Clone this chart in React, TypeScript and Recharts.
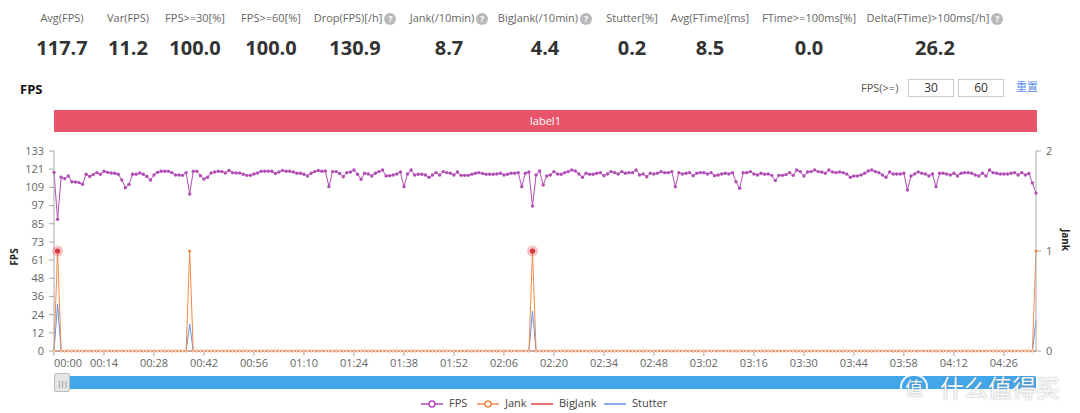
import React from 'react';
import { LineChart, Line, XAxis, YAxis } from 'recharts';

const FONT = '"Open Sans", "Noto Sans CJK SC", "Noto Sans", sans-serif';

const statLabels = ['Avg(FPS)', 'Var(FPS)', 'FPS>=30[%]', 'FPS>=60[%]', 'Drop(FPS)[/h]', 'Jank(/10min)', 'BigJank(/10min)', 'Stutter[%]', 'Avg(FTime)[ms]', 'FTime>=100ms[%]', 'Delta(FTime)>100ms[/h]'];
const statValues = ['117.7', '11.2', '100.0', '100.0', '130.9', '8.7', '4.4', '0.2', '8.5', '0.0', '26.2'];
const statHelp = [false, false, false, false, true, true, true, false, false, false, true];
const statCenters = [62, 128, 195, 271, 355, 449, 545, 632, 710, 809, 935];

const fpsTickLabels = ['0', '12', '24', '36', '48', '61', '73', '85', '97', '109', '121', '133'];
const jankTickLabels = ['0', '1', '2'];
const timeTickSeconds = [0, 14, 28, 42, 56, 70, 84, 98, 112, 126, 140, 154, 168, 182, 196, 210, 224, 238, 252, 266];

const fps = [
  118.8, 87.6, 115.5, 114.6, 116.4, 112.6, 112.4, 112.0, 110.9, 117.5,
  116.0, 117.3, 118.6, 117.5, 119.5, 118.8, 118.4, 118.2, 117.5, 113.7,
  108.6, 110.8, 117.5, 117.5, 118.4, 117.5, 116.0, 113.7, 117.0, 118.8,
  119.5, 119.5, 119.5, 118.6, 117.0, 117.0, 116.8, 118.6, 104.4, 119.5,
  119.5, 116.6, 114.4, 115.5, 118.4, 119.0, 119.5, 119.3, 118.4, 120.1,
  118.6, 118.4, 118.4, 117.5, 116.8, 116.8, 117.7, 118.4, 119.5, 119.5,
  119.5, 119.5, 118.0, 119.0, 120.1, 119.5, 119.5, 119.0, 118.2, 118.2,
  117.5, 116.4, 118.2, 119.3, 120.0, 119.5, 119.7, 109.3, 119.3, 119.3,
  118.0, 115.9, 118.6, 119.0, 120.4, 117.5, 114.2, 118.2, 117.7, 116.4,
  118.2, 119.3, 120.4, 116.4, 116.6, 117.0, 117.7, 119.0, 109.3, 117.7,
  120.4, 117.0, 117.5, 117.5, 117.0, 115.5, 117.0, 118.6, 117.0, 119.3,
  118.6, 118.2, 117.0, 119.0, 116.8, 116.8, 116.8, 117.5, 118.2, 118.6,
  118.0, 117.5, 117.5, 117.5, 117.7, 118.2, 117.0, 117.5, 118.2, 118.2,
  118.6, 109.3, 118.2, 119.0, 96.4, 117.0, 119.7, 110.4, 116.4, 117.0,
  119.3, 117.7, 117.5, 118.6, 119.3, 120.4, 119.7, 117.7, 115.5, 118.2,
  117.5, 117.5, 118.2, 118.6, 116.6, 117.7, 119.3, 118.6, 117.7, 119.3,
  118.2, 118.6, 118.6, 120.4, 117.0, 117.7, 115.9, 118.2, 117.7, 118.2,
  119.3, 118.6, 118.6, 119.3, 109.3, 118.6, 117.7, 118.2, 118.6, 116.6,
  118.2, 118.6, 118.6, 117.7, 118.6, 116.6, 117.0, 117.7, 118.2, 117.7,
  118.6, 112.6, 108.2, 118.6, 118.6, 119.3, 117.7, 117.0, 118.2, 117.5,
  117.7, 116.8, 113.3, 116.8, 116.8, 117.3, 118.6, 116.8, 120.4, 119.3,
  116.4, 119.0, 119.3, 120.4, 119.3, 119.0, 118.2, 120.4, 119.0, 118.6,
  119.0, 118.6, 117.7, 115.5, 116.4, 116.4, 117.0, 118.2, 119.7, 120.4,
  119.3, 118.6, 117.0, 115.5, 119.0, 117.7, 117.7, 117.7, 118.2, 107.1,
  116.4, 117.7, 119.0, 118.2, 117.7, 116.4, 117.7, 109.3, 118.2, 118.2,
  117.7, 117.0, 118.2, 116.4, 118.2, 118.6, 118.6, 118.2, 117.0, 116.4,
  118.2, 116.4, 120.4, 118.6, 118.2, 117.7, 117.7, 117.7, 118.2, 118.6,
  117.0, 118.6, 117.0, 118.0, 111.7, 105.0,
];

// Spikes (second index -> value); all other seconds are zero
const jankSpikes: Record<number, number> = { 1: 1, 38: 1, 134: 1, 275: 1 };
const stutterSpikes: Record<number, number> = { 1: 0.47, 38: 0.27, 134: 0.4, 275: 0.31 };
const bigJankSpikes: Record<number, number> = {};
const jankEmphasis = [1, 134];

const seriesNames = ['FPS', 'Jank', 'BigJank', 'Stutter'];
const COLORS = { fps: '#b24db5', jank: '#f08a4b', bigJank: '#e0403f', stutter: '#6690e6' };

const rows = fps.map((v, i) => ({
  t: i,
  fps: v,
  jank: jankSpikes[i] ?? 0,
  bigJank: bigJankSpikes[i] ?? 0,
  stutter: stutterSpikes[i] ?? 0,
}));

const fmtTime = (s: number) => {
  const m = Math.floor(s / 60);
  const r = s % 60;
  return `${String(m).padStart(2, '0')}:${String(r).padStart(2, '0')}`;
};

const fpsTickValues = fpsTickLabels.map((_, i) => (i * 133) / (fpsTickLabels.length - 1));

const XTick = (props: any) => {
  const { x, y, payload } = props;
  const first = payload.value === 0;
  return (
    <text x={x} y={y} dy="0.71em" textAnchor={first ? 'start' : 'middle'} fill="#666" fontSize={11} fontFamily={FONT}>
      {fmtTime(payload.value)}
    </text>
  );
};

const FpsDot = (props: any) => {
  const { cx, cy, index } = props;
  return <circle key={`fd-${index}`} cx={cx} cy={cy} r={1.7} fill={COLORS.fps} stroke="none" />;
};

const JankDot = (props: any) => {
  const { cx, cy, index } = props;
  if (jankEmphasis.includes(index)) {
    return (
      <g key={`jd-${index}`}>
        <circle cx={cx} cy={cy} r={5.5} fill="rgba(232,80,90,0.35)" />
        <circle cx={cx} cy={cy} r={2.6} fill="#d9363e" />
      </g>
    );
  }
  if (props.payload && props.payload.jank > 0) {
    return <circle key={`jd-${index}`} cx={cx} cy={cy} r={1.6} fill={COLORS.jank} stroke="none" />;
  }
  return <circle key={`jd-${index}`} cx={cx} cy={cy} r={1.2} fill="#fff" stroke={COLORS.jank} strokeWidth={0.7} />;
};

const HelpIcon = () => (
  <span
    style={{
      display: 'inline-block', width: 12, height: 12, borderRadius: 6, background: '#b9b9b9', color: '#fff',
      fontSize: 9, fontWeight: 700, lineHeight: '12px', textAlign: 'center', marginLeft: 2, verticalAlign: 'middle',
    }}
  >
    ?
  </span>
);

const LegendIcon = ({ color, marker }: { color: string; marker: boolean }) => (
  <svg width={22} height={10} style={{ verticalAlign: 'middle' }}>
    <line x1={0} y1={5} x2={22} y2={5} stroke={color} strokeWidth={1.5} />
    {marker && <circle cx={11} cy={5} r={3} fill="#fff" stroke={color} strokeWidth={1.5} />}
  </svg>
);

export default function App() {
  const legendItems = [
    { name: seriesNames[0], color: COLORS.fps, marker: true, left: 421 },
    { name: seriesNames[1], color: COLORS.jank, marker: true, left: 477 },
    { name: seriesNames[2], color: COLORS.bigJank, marker: false, left: 531 },
    { name: seriesNames[3], color: COLORS.stutter, marker: false, left: 604 },
  ];
  return (
    <div style={{ position: 'absolute', left: 0, top: 0, width: 1080, height: 413, background: '#fff', fontFamily: FONT, overflow: 'hidden' }}>
      {statLabels.map((lab, i) => (
        <div key={`l${i}`} style={{ position: 'absolute', left: statCenters[i] - 100, width: 200, top: 10, textAlign: 'center', fontSize: 11, color: '#666', lineHeight: '16px', whiteSpace: 'nowrap' }}>
          {lab}
          {statHelp[i] && <HelpIcon />}
        </div>
      ))}
      {statValues.map((v, i) => (
        <div key={`v${i}`} style={{ position: 'absolute', left: statCenters[i] - 100, width: 200, top: 34, textAlign: 'center', fontSize: 20, fontWeight: 700, color: '#333', lineHeight: '28px' }}>
          {v}
        </div>
      ))}

      <div style={{ position: 'absolute', left: 20, top: 79, fontSize: 13, fontWeight: 700, color: '#111', lineHeight: '20px' }}>FPS</div>

      <div style={{ position: 'absolute', left: 861, top: 80, fontSize: 11, color: '#555', lineHeight: '16px' }}>FPS(&gt;=)</div>
      <div style={{ position: 'absolute', left: 908, top: 79, width: 44, height: 16, border: '1px solid #ccc', fontSize: 12, color: '#333', textAlign: 'center', lineHeight: '16px' }}>30</div>
      <div style={{ position: 'absolute', left: 958, top: 79, width: 44, height: 16, border: '1px solid #ccc', fontSize: 12, color: '#333', textAlign: 'center', lineHeight: '16px' }}>60</div>
      <div style={{ position: 'absolute', left: 1016, top: 79, fontSize: 11, color: '#5b8dea', lineHeight: '16px' }}>重置</div>

      <div style={{ position: 'absolute', left: 54, top: 110, width: 983, height: 22, background: '#e8556a', color: '#fff', fontSize: 11, textAlign: 'center', lineHeight: '22px' }}>label1</div>

      <div style={{ position: 'absolute', left: 0, top: 140 }}>
        <LineChart width={1080} height={240} data={rows} margin={{ top: 11, right: 0, bottom: 0, left: 0 }}>
          <XAxis
            dataKey="t"
            type="number"
            domain={[0, 275]}
            ticks={timeTickSeconds}
            interval={0}
            tick={<XTick />}
            tickSize={5}
            tickMargin={3}
            height={29}
            stroke="#aaa"
          />
          <YAxis
            yAxisId="left"
            domain={[0, 133]}
            ticks={fpsTickValues}
            interval={0}
            tickFormatter={(v: number) => fpsTickLabels[Math.round((v * 11) / 133)]}
            width={54}
            tickSize={5}
            tickMargin={5}
            stroke="#aaa"
            tick={{ fill: '#666', fontSize: 11, fontFamily: FONT }}
          />
          <YAxis
            yAxisId="right"
            orientation="right"
            domain={[0, 2]}
            ticks={[0, 1, 2]}
            interval={0}
            tickFormatter={(v: number) => jankTickLabels[v]}
            width={44}
            tickSize={5}
            tickMargin={5}
            stroke="#aaa"
            tick={{ fill: '#666', fontSize: 11, fontFamily: FONT }}
          />
          <Line yAxisId="right" dataKey="stutter" stroke={COLORS.stutter} strokeWidth={1} dot={false} isAnimationActive={false} />
          <Line yAxisId="right" dataKey="bigJank" stroke={COLORS.bigJank} strokeWidth={1} dot={false} isAnimationActive={false} />
          <Line yAxisId="right" dataKey="jank" stroke={COLORS.jank} strokeWidth={1} dot={<JankDot />} isAnimationActive={false} />
          <Line yAxisId="left" dataKey="fps" stroke={COLORS.fps} strokeWidth={1} dot={<FpsDot />} isAnimationActive={false} />
        </LineChart>
      </div>

      <div style={{ position: 'absolute', left: 14 - 20, top: 250, width: 40, textAlign: 'center', transform: 'rotate(-90deg)', fontSize: 10, fontWeight: 700, color: '#222', lineHeight: '14px' }}>FPS</div>
      <div style={{ position: 'absolute', left: 1066 - 20, top: 233, width: 40, textAlign: 'center', transform: 'rotate(90deg)', fontSize: 10, fontWeight: 700, color: '#222', lineHeight: '14px' }}>Jank</div>

      <div style={{ position: 'absolute', left: 54, top: 376, width: 982, height: 13, background: '#42a6ea', borderRadius: 2 }} />
      <div style={{ position: 'absolute', left: 54, top: 373, width: 14, height: 17, background: '#e6e6e6', border: '1px solid #bbb', borderRadius: 2, fontSize: 8, color: '#666', textAlign: 'center', lineHeight: '17px', letterSpacing: -1 }}>|||</div>

      <div style={{ position: 'absolute', left: 900, top: 374, height: 26, fontSize: 24, color: 'rgba(255,255,255,0.92)', fontFamily: '"Noto Sans CJK SC", sans-serif', lineHeight: '26px', textShadow: '0 0 2px rgba(120,120,120,0.7)', whiteSpace: 'nowrap' }}>
        <span style={{ display: 'inline-block', width: 28, height: 26, borderRadius: 14, border: '2px solid rgba(255,255,255,0.92)', textAlign: 'center', lineHeight: '22px', fontSize: 18, marginRight: 12, boxSizing: 'border-box', verticalAlign: 'top' }}>值</span>
        什么值得买
      </div>

      {legendItems.map((it) => (
        <div key={it.name} style={{ position: 'absolute', left: it.left, top: 395, fontSize: 11, color: '#444', lineHeight: '16px', whiteSpace: 'nowrap' }}>
          <LegendIcon color={it.color} marker={it.marker} />
          <span style={{ marginLeft: 6 }}>{it.name}</span>
        </div>
      ))}
    </div>
  );
}
